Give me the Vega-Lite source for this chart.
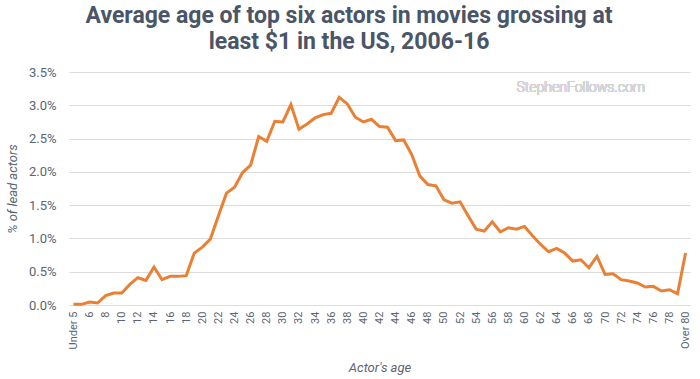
{
  "$schema": "https://vega.github.io/schema/vega-lite/v6.json",
  "width": 700,
  "height": 379,
  "autosize": {"type": "fit", "contains": "padding"},
  "padding": {"left": 6, "right": 8, "top": 5, "bottom": 4},
  "background": "white",
  "config": {
    "font": "Roboto",
    "view": {"stroke": null},
    "axis": {
      "ticks": false,
      "domain": false,
      "labelColor": "#5b6573",
      "titleFontSize": 13,
      "titleFontStyle": "italic",
      "titleFontWeight": "normal",
      "titleColor": "#5b6573",
      "labelOverlap": false
    }
  },
  "title": {
    "text": ["Average age of top six actors in movies grossing at", "least $1 in the US, 2006-16"],
    "anchor": "middle",
    "frame": "bounds",
    "font": "Roboto",
    "fontSize": 23,
    "fontWeight": "bold",
    "color": "#4a5567",
    "lineHeight": 26,
    "offset": 12
  },
  "data": {
    "values": [
      {"age": "Under 5", "pct": 0.0001},
      {"age": "5", "pct": 0.0001},
      {"age": "6", "pct": 0.00045},
      {"age": "7", "pct": 0.0003},
      {"age": "8", "pct": 0.0014},
      {"age": "9", "pct": 0.0018},
      {"age": "10", "pct": 0.0018},
      {"age": "11", "pct": 0.0031},
      {"age": "12", "pct": 0.0041},
      {"age": "13", "pct": 0.0037},
      {"age": "14", "pct": 0.0057},
      {"age": "15", "pct": 0.0038},
      {"age": "16", "pct": 0.0043},
      {"age": "17", "pct": 0.0043},
      {"age": "18", "pct": 0.0044},
      {"age": "19", "pct": 0.0078},
      {"age": "20", "pct": 0.0087},
      {"age": "21", "pct": 0.0099},
      {"age": "22", "pct": 0.0134},
      {"age": "23", "pct": 0.0168},
      {"age": "24", "pct": 0.0177},
      {"age": "25", "pct": 0.0199},
      {"age": "26", "pct": 0.021},
      {"age": "27", "pct": 0.0253},
      {"age": "28", "pct": 0.0246},
      {"age": "29", "pct": 0.0276},
      {"age": "30", "pct": 0.0275},
      {"age": "31", "pct": 0.0301},
      {"age": "32", "pct": 0.0264},
      {"age": "33", "pct": 0.0272},
      {"age": "34", "pct": 0.0281},
      {"age": "35", "pct": 0.0286},
      {"age": "36", "pct": 0.0288},
      {"age": "37", "pct": 0.0312},
      {"age": "38", "pct": 0.0302},
      {"age": "39", "pct": 0.0282},
      {"age": "40", "pct": 0.0275},
      {"age": "41", "pct": 0.0279},
      {"age": "42", "pct": 0.0268},
      {"age": "43", "pct": 0.0267},
      {"age": "44", "pct": 0.0247},
      {"age": "45", "pct": 0.0248},
      {"age": "46", "pct": 0.0226},
      {"age": "47", "pct": 0.0194},
      {"age": "48", "pct": 0.0181},
      {"age": "49", "pct": 0.0179},
      {"age": "50", "pct": 0.0158},
      {"age": "51", "pct": 0.0153},
      {"age": "52", "pct": 0.0155},
      {"age": "53", "pct": 0.0134},
      {"age": "54", "pct": 0.0114},
      {"age": "55", "pct": 0.0111},
      {"age": "56", "pct": 0.0125},
      {"age": "57", "pct": 0.011},
      {"age": "58", "pct": 0.0116},
      {"age": "59", "pct": 0.0114},
      {"age": "60", "pct": 0.0118},
      {"age": "61", "pct": 0.0104},
      {"age": "62", "pct": 0.0091},
      {"age": "63", "pct": 0.008},
      {"age": "64", "pct": 0.0085},
      {"age": "65", "pct": 0.0078},
      {"age": "66", "pct": 0.0066},
      {"age": "67", "pct": 0.0068},
      {"age": "68", "pct": 0.0056},
      {"age": "69", "pct": 0.0073},
      {"age": "70", "pct": 0.0046},
      {"age": "71", "pct": 0.0047},
      {"age": "72", "pct": 0.0038},
      {"age": "73", "pct": 0.0036},
      {"age": "74", "pct": 0.0033},
      {"age": "75", "pct": 0.0027},
      {"age": "76", "pct": 0.0028},
      {"age": "77", "pct": 0.0021},
      {"age": "78", "pct": 0.0023},
      {"age": "79", "pct": 0.0017},
      {"age": "Over 80", "pct": 0.0078}
    ]
  },
  "layer": [
    {
      "mark": {"type": "line", "color": "#ea8034", "strokeWidth": 3, "strokeJoin": "miter"},
      "encoding": {
        "x": {
          "field": "age",
          "type": "ordinal",
          "sort": null,
          "scale": {"type": "point", "padding": 0.55},
          "axis": {
            "values": ["Under 5","6","8","10","12","14","16","18","20","22","24","26","28","30","32","34","36","38","40","42","44","46","48","50","52","54","56","58","60","62","64","66","68","70","72","74","76","78","Over 80"],
            "labelAngle": -90,
            "labelAlign": "right",
            "labelBaseline": "middle",
            "labelFontSize": 11,
            "labelPadding": 6,
            "grid": false,
            "title": "Actor's age",
            "titlePadding": 13
          }
        },
        "y": {
          "field": "pct",
          "type": "quantitative",
          "scale": {"domain": [0, 0.035], "nice": false},
          "axis": {
            "values": [0, 0.005, 0.01, 0.015, 0.02, 0.025, 0.03, 0.035],
            "format": ".1%",
            "labelFontSize": 13,
            "labelPadding": 13,
            "grid": true,
            "gridColor": "#dcdcdc",
            "gridWidth": 1,
            "title": "% of lead actors",
            "titlePadding": 9
          }
        }
      }
    },
    {
      "mark": {"type": "text", "text": "StephenFollows.com", "fontSize": 14, "fontWeight": 300, "color": "#d3d5d8", "align": "center", "baseline": "middle"},
      "encoding": {
        "x": {
          "datum": "67",
          "type": "ordinal",
          "axis": {
            "values": ["Under 5","6","8","10","12","14","16","18","20","22","24","26","28","30","32","34","36","38","40","42","44","46","48","50","52","54","56","58","60","62","64","66","68","70","72","74","76","78","Over 80"],
            "labelAngle": -90,
            "labelAlign": "right",
            "labelBaseline": "middle",
            "labelFontSize": 11,
            "labelPadding": 6,
            "grid": false,
            "title": "Actor's age",
            "titlePadding": 13
          }
        },
        "y": {
          "datum": 0.0326,
          "type": "quantitative",
          "axis": {
            "values": [0, 0.005, 0.01, 0.015, 0.02, 0.025, 0.03, 0.035],
            "format": ".1%",
            "labelFontSize": 13,
            "labelPadding": 13,
            "grid": true,
            "gridColor": "#dcdcdc",
            "gridWidth": 1,
            "title": "% of lead actors",
            "titlePadding": 9
          }
        }
      }
    }
  ]
}
